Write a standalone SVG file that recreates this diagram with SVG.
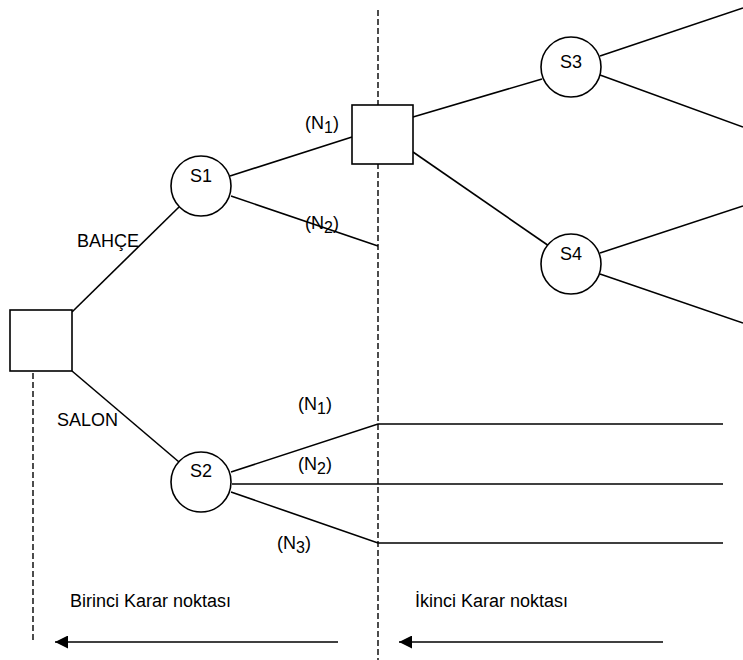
<svg xmlns="http://www.w3.org/2000/svg" width="743" height="660" viewBox="0 0 743 660">
<style>
.ln{stroke:#000;stroke-width:1.6;fill:none}
.dash{stroke:#000;stroke-width:1.4;fill:none;stroke-dasharray:6 3}
.box{fill:#fff;stroke:#000;stroke-width:1.6}
.t{font-family:"Liberation Sans",Arial,sans-serif;font-size:18px;fill:#000}
.sub{font-size:16px}
.c{text-anchor:middle}
</style>
<defs>
<marker id="ah" markerWidth="14" markerHeight="13" refX="13" refY="6.5" orient="auto" markerUnits="userSpaceOnUse">
<path d="M0,0 L13,6.5 L0,13 Z" fill="#000"/>
</marker>
</defs>
<rect width="743" height="660" fill="#fff"/>
<g id="dividers">
<line class="dash" x1="378" y1="10" x2="378" y2="660"/>
<line class="dash" x1="33" y1="373" x2="33" y2="642"/>
</g>
<g id="connectors">
<line class="ln" x1="72" y1="312" x2="179" y2="207"/>
<line class="ln" x1="72" y1="371" x2="179" y2="462"/>
<line class="ln" x1="230" y1="176" x2="352" y2="137"/>
<line class="ln" x1="231" y1="196" x2="378" y2="246"/>
<line class="ln" x1="413" y1="117" x2="542" y2="79"/>
<line class="ln" x1="413" y1="152" x2="549" y2="246"/>
<line class="ln" x1="600" y1="56" x2="743" y2="8"/>
<line class="ln" x1="600" y1="75" x2="743" y2="127"/>
<line class="ln" x1="600" y1="253" x2="743" y2="206"/>
<line class="ln" x1="600" y1="274" x2="743" y2="323"/>
<polyline class="ln" points="231,472 378,424 723,424"/>
<line class="ln" x1="232" y1="484" x2="723" y2="484"/>
<polyline class="ln" points="231,492 378,543 723,543"/>
<line class="ln" x1="338" y1="642" x2="55" y2="642" marker-end="url(#ah)"/>
<line class="ln" x1="663" y1="642" x2="399" y2="642" marker-end="url(#ah)"/>
</g>
<g id="D1"><rect class="box" x="10" y="310" width="62" height="61"/></g>
<g id="D2"><rect class="box" x="352" y="105" width="61" height="59"/></g>
<g id="S1"><circle class="box" cx="201" cy="186" r="30"/><text class="t c" x="201" y="182">S1</text></g>
<g id="S2"><circle class="box" cx="201" cy="482" r="30"/><text class="t c" x="201" y="477">S2</text></g>
<g id="S3"><circle class="box" cx="571" cy="67" r="30"/><text class="t c" x="571" y="68">S3</text></g>
<g id="S4"><circle class="box" cx="571" cy="264" r="30"/><text class="t c" x="571" y="260">S4</text></g>
<g id="labels">
<text class="t" x="77" y="247">BAHÇE</text>
<text class="t" x="57" y="426">SALON</text>
<text class="t" x="305" y="129">(N<tspan class="sub" dy="4">1</tspan><tspan dy="-4">)</tspan></text>
<text class="t" x="305" y="229">(N<tspan class="sub" dy="4">2</tspan><tspan dy="-4">)</tspan></text>
<text class="t" x="298" y="410">(N<tspan class="sub" dy="4">1</tspan><tspan dy="-4">)</tspan></text>
<text class="t" x="298" y="470">(N<tspan class="sub" dy="4">2</tspan><tspan dy="-4">)</tspan></text>
<text class="t" x="277" y="549">(N<tspan class="sub" dy="4">3</tspan><tspan dy="-4">)</tspan></text>
<text class="t" x="70" y="607">Birinci Karar noktası</text>
<text class="t" x="415" y="607">İkinci Karar noktası</text>
</g>
</svg>
